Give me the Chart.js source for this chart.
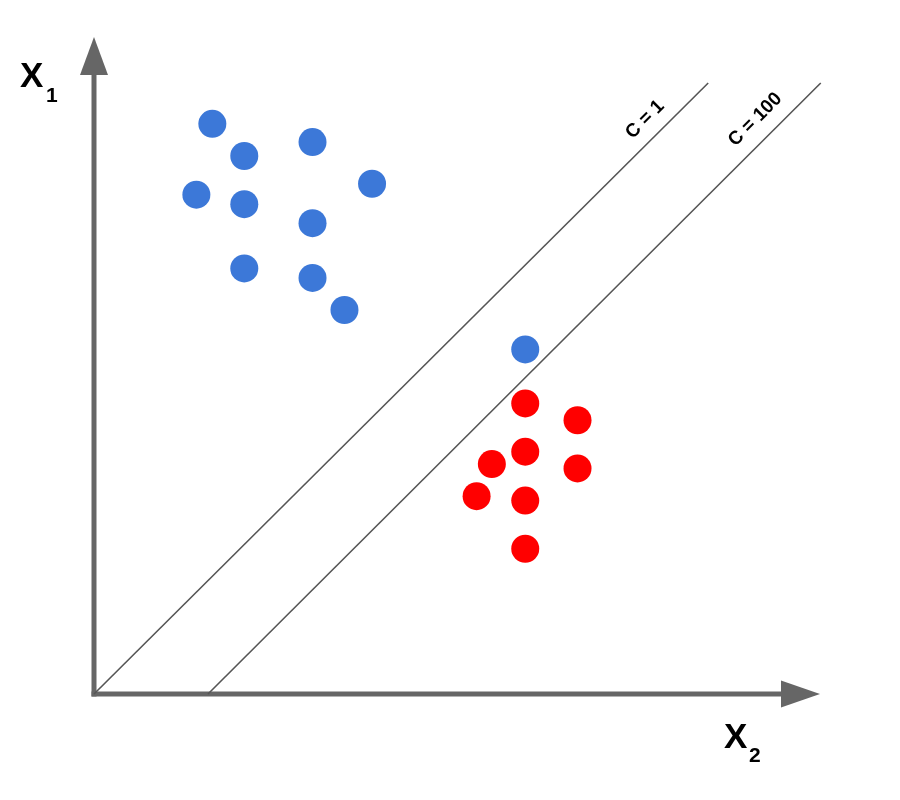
<!DOCTYPE html>
<html>
<head>
<meta charset="utf-8">
<style>
  html, body { margin: 0; padding: 0; background: #ffffff; }
  canvas { display: block; }
</style>
<script src="https://cdn.jsdelivr.net/npm/chart.js@4/dist/chart.umd.min.js"></script>
</head>
<body>
<canvas id="c" width="900" height="800"></canvas>
<script>
// ---- data ----
const blueX = [1.63, 2.07, 3.01, 1.41, 2.07, 3.83, 3.01, 2.07, 3.01, 3.45, 5.94];
const blueY = [7.81, 7.37, 7.56, 6.84, 6.71, 6.99, 6.45, 5.83, 5.70, 5.26, 4.72];
const redX  = [5.94, 6.66, 5.94, 5.48, 6.66, 5.27, 5.94, 5.94];
const redY  = [3.98, 3.75, 3.32, 3.15, 3.09, 2.71, 2.65, 1.99];
const lineC1X   = [0.00, 8.46];
const lineC1Y   = [0.00, 8.37];
const lineC100X = [1.57, 10.01];
const lineC100Y = [0.00, 8.37];
const lineLabels = ["C = 1", "C = 100"];
const labelX = [7.59, 9.11];
const labelY = [7.87, 7.87];
const axisLabels = ["X", "X"];
const axisSubs = ["1", "2"];

const toPts = (xs, ys) => xs.map((x, i) => ({ x: x, y: ys[i] }));

const AXIS_COLOR = '#666666';

const axesPlugin = {
  id: 'axesArrows',
  beforeDatasetsDraw(chart) {
    const ctx = chart.ctx;
    const xs = chart.scales.x, ys = chart.scales.y;
    const ox = xs.getPixelForValue(0), oy = ys.getPixelForValue(0);
    const xEnd = xs.getPixelForValue(xs.max);
    const yEnd = ys.getPixelForValue(ys.max);
    ctx.save();
    ctx.strokeStyle = AXIS_COLOR;
    ctx.fillStyle = AXIS_COLOR;
    ctx.lineWidth = 5;
    ctx.lineCap = 'butt';
    // y axis
    ctx.beginPath();
    ctx.moveTo(ox, oy + 2.5);
    ctx.lineTo(ox, yEnd + 36);
    ctx.stroke();
    ctx.beginPath();
    ctx.moveTo(ox, yEnd);
    ctx.lineTo(ox - 14, yEnd + 38);
    ctx.lineTo(ox + 14, yEnd + 38);
    ctx.closePath();
    ctx.fill();
    // x axis
    ctx.beginPath();
    ctx.moveTo(ox - 2.5, oy);
    ctx.lineTo(xEnd - 38, oy);
    ctx.stroke();
    ctx.beginPath();
    ctx.moveTo(xEnd, oy);
    ctx.lineTo(xEnd - 39, oy - 13.5);
    ctx.lineTo(xEnd - 39, oy + 13.5);
    ctx.closePath();
    ctx.fill();
    ctx.restore();
  },
  afterDraw(chart) {
    const ctx = chart.ctx;
    const xs = chart.scales.x, ys = chart.scales.y;
    ctx.save();
    ctx.fillStyle = '#000000';
    ctx.textBaseline = 'alphabetic';
    ctx.textAlign = 'left';
    // axis titles
    ctx.font = 'bold 35px "Liberation Sans", Arial, sans-serif';
    ctx.fillText(axisLabels[0], 20, 87);
    ctx.fillText(axisLabels[1], 724, 748);
    ctx.font = 'bold 21px "Liberation Sans", Arial, sans-serif';
    ctx.fillText(axisSubs[0], 46, 102);
    ctx.fillText(axisSubs[1], 749, 762);
    // line labels
    ctx.font = 'bold 19px "Liberation Sans", Arial, sans-serif';
    ctx.textAlign = 'center';
    ctx.textBaseline = 'middle';
    lineLabels.forEach((t, i) => {
      const px = xs.getPixelForValue(labelX[i]);
      const py = ys.getPixelForValue(labelY[i]);
      ctx.save();
      ctx.translate(px, py);
      ctx.rotate(-Math.PI / 4);
      ctx.fillText(t, 0, 0);
      ctx.restore();
    });
    ctx.restore();
  }
};

new Chart(document.getElementById('c'), {
  type: 'scatter',
  data: {
    datasets: [
      {
        data: toPts(lineC1X, lineC1Y),
        showLine: true, borderColor: '#555555', borderWidth: 1.6,
        pointRadius: 0, clip: false, order: 2
      },
      {
        data: toPts(lineC100X, lineC100Y),
        showLine: true, borderColor: '#555555', borderWidth: 1.6,
        pointRadius: 0, clip: false, order: 2
      },
      {
        data: toPts(blueX, blueY),
        backgroundColor: '#3c78d8', borderColor: '#3c78d8', borderWidth: 0,
        pointRadius: 14, pointHoverRadius: 14, clip: false, order: 1
      },
      {
        data: toPts(redX, redY),
        backgroundColor: '#ff0000', borderColor: '#ff0000', borderWidth: 0,
        pointRadius: 14, pointHoverRadius: 14, clip: false, order: 1
      }
    ]
  },
  options: {
    responsive: false,
    animation: false,
    events: [],
    layout: { padding: { left: 94, top: 37, right: 80, bottom: 106 } },
    plugins: { legend: { display: false }, tooltip: { enabled: false } },
    scales: {
      x: { type: 'linear', min: 0, max: 10, display: false },
      y: { type: 'linear', min: 0, max: 9, display: false }
    }
  },
  plugins: [axesPlugin]
});
</script>
</body>
</html>
